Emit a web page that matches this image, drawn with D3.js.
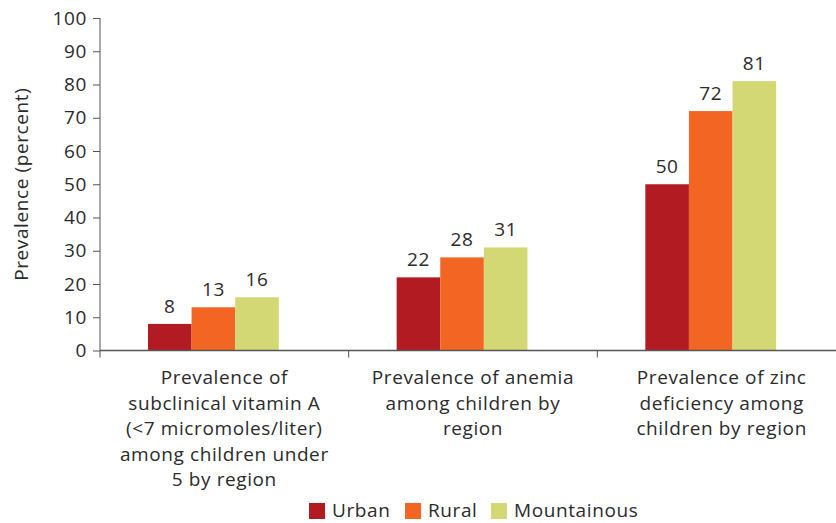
<!DOCTYPE html>
<html>
<head>
<meta charset="utf-8">
<script src="https://cdn.jsdelivr.net/npm/d3@7"></script>
<style>
  body { margin: 0; background: #fff; }
  text { font-family: "Open Sans", "Noto Sans", sans-serif; fill: #2b2b2b; }
  .lbl { letter-spacing: 0.6px; }
</style>
</head>
<body>
<div class="chart"></div>
<script>
// data
const categories = [
  ["Prevalence of", "subclinical vitamin A", "(<7 micromoles/liter)", "among children under", "5 by region"],
  ["Prevalence of anemia", "among children by", "region"],
  ["Prevalence of zinc", "deficiency among", "children by region"]
];
const series = ["Urban", "Rural", "Mountainous"];
const urban = [8, 22, 50];
const rural = [13, 28, 72];
const mountainous = [16, 31, 81];
const yTicks = [0, 10, 20, 30, 40, 50, 60, 70, 80, 90, 100];
const colors = ["#b31b22", "#f26522", "#d3d774"];

const width = 836, height = 523;
let plotLeft = 100, plotRight = 846, plotTop = 18, plotBottom = 350.5;

const graph = d3.select(".chart").append("svg")
  .attr("width", width)
  .attr("height", height);

// scales
const x0 = d3.scaleBand().domain(d3.range(categories.length)).range([plotLeft, plotRight]);
const bw = x0.bandwidth();
const x1 = d3.scaleBand().domain(series).range([bw * 0.193, bw * 0.719]);
const y = d3.scaleLinear().domain([0, 100]).range([plotBottom, plotTop]);

const values = [urban, rural, mountainous];

// bars
categories.forEach((c, i) => {
  let g = graph.append("g").attr("transform", `translate(${x0(i)},0)`);
  series.forEach((s, j) => {
    let v = values[j][i];
    g.append("rect")
      .attr("x", x1(s))
      .attr("y", y(v))
      .attr("width", x1.bandwidth())
      .attr("height", y(0) - y(v))
      .attr("fill", colors[j]);
    g.append("text")
      .attr("x", x1(s) + x1.bandwidth() / 2)
      .attr("y", y(v) - 11)
      .attr("text-anchor", "middle")
      .attr("class", "lbl")
      .style("font-size", "19px")
      .text(v);
  });
});

// y axis
let yAxis = graph.append("g")
  .attr("transform", `translate(${plotLeft},0)`)
  .call(d3.axisLeft(y).tickValues(yTicks).tickSize(7).tickPadding(6));
yAxis.select(".domain").attr("stroke", "#555").attr("d", `M0,${plotTop}V${plotBottom}`);
yAxis.selectAll(".tick line").attr("stroke", "#555");
yAxis.selectAll("text").style("font-size", "19px").attr("class", "lbl").attr("fill", "#2b2b2b");

// x axis
let xAxis = graph.append("g")
  .attr("transform", `translate(0,${plotBottom})`);
xAxis.append("line")
  .attr("x1", plotLeft).attr("x2", plotRight)
  .attr("stroke", "#555").attr("stroke-width", 1.5);
xAxis.selectAll(".cat-tick")
  .data(d3.range(categories.length + 1))
  .enter().append("line")
  .attr("x1", d => plotLeft + d * bw).attr("x2", d => plotLeft + d * bw)
  .attr("y1", 0).attr("y2", 7)
  .attr("stroke", "#555");

// category labels
categories.forEach((lines, i) => {
  let t = graph.append("text")
    .attr("text-anchor", "middle")
    .attr("class", "lbl")
    .style("font-size", "19px");
  lines.forEach((l, k) => {
    t.append("tspan")
      .attr("x", x0(i) + bw / 2)
      .attr("y", 384 + k * 25.6)
      .text(l);
  });
});

// y title
graph.append("text")
  .attr("transform", `translate(28,${(plotTop + plotBottom) / 2}) rotate(-90)`)
  .attr("text-anchor", "middle")
  .attr("class", "lbl")
  .style("font-size", "19px")
  .text("Prevalence (percent)");

// legend
const legendX = [309, 405, 491];
series.forEach((s, j) => {
  graph.append("rect")
    .attr("x", legendX[j]).attr("y", 503)
    .attr("width", 16).attr("height", 16)
    .attr("fill", colors[j]);
  graph.append("text")
    .attr("x", legendX[j] + 23).attr("y", 517)
    .attr("class", "lbl")
    .style("font-size", "19px")
    .text(s);
});
</script>
</body>
</html>
